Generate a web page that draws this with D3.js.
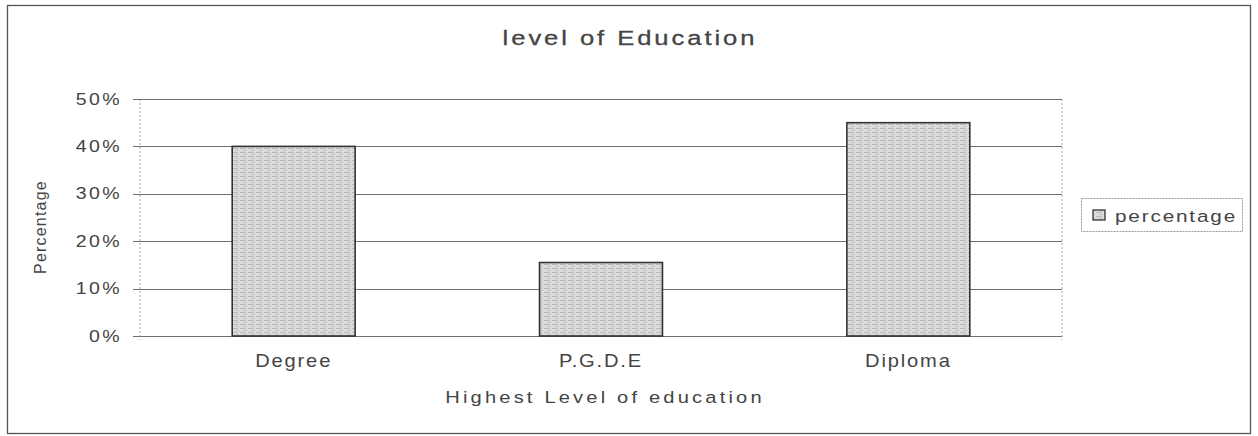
<!DOCTYPE html>
<html><head><meta charset="utf-8">
<script src="https://cdn.jsdelivr.net/npm/d3@7"></script>
<style>
html,body{margin:0;padding:0;background:#fff;}
text{font-family:"Liberation Sans",Arial,sans-serif;fill:#444;}
</style></head>
<body>
<svg id="chart" width="1258" height="436"></svg>
<script>
const categories = ["Degree", "P.G.D.E", "Diploma"];
const percentage = [0.40, 0.155, 0.45];
const yTicks = [0, 0.1, 0.2, 0.3, 0.4, 0.5];
const seriesName = "percentage";
const chartTitle = "level of Education";
const xTitle = "Highest Level of education";
const yTitle = "Percentage";

const svg = d3.select("#chart");
const plot = {left: 140, right: 1062, top: 99, bottom: 336};
const SX = 1.22;

// outer border
svg.append("rect").attr("x", 7.5).attr("y", 5.5).attr("width", 1243).attr("height", 428)
  .attr("fill", "#fff").attr("stroke", "#555").attr("stroke-width", 1.3);

// pattern for bars
const defs = svg.append("defs");
const pat = defs.append("pattern").attr("id", "hatch").attr("patternUnits", "userSpaceOnUse")
  .attr("width", 8).attr("height", 4);
pat.append("rect").attr("width", 8).attr("height", 4).attr("fill", "#dcdcdc");
pat.append("rect").attr("y", 0).attr("width", 6).attr("height", 1).attr("fill", "#b9b9b9");
pat.append("rect").attr("x", 3).attr("y", 2).attr("width", 4).attr("height", 1).attr("fill", "#c6c6c6");

const x = d3.scaleBand().domain(categories).range([plot.left, plot.right])
  .paddingInner(0.6).paddingOuter(0.3);
const y = d3.scaleLinear().domain([0, 0.5]).range([plot.bottom, plot.top]);

function stretchedText(px, py, sx, str, size, anchor, ls) {
  return svg.append("g").attr("transform", `translate(${px},${py})`)
    .append("text").attr("transform", `scale(${sx},1)`).attr("text-anchor", anchor)
    .attr("font-size", size).attr("letter-spacing", ls + "px").text(str);
}

// plot area side borders (dotted)
svg.append("line").attr("x1", plot.left).attr("x2", plot.left).attr("y1", plot.top).attr("y2", plot.bottom + 4)
  .attr("stroke", "#aaa").attr("stroke-dasharray", "2,2");
svg.append("line").attr("x1", plot.right).attr("x2", plot.right).attr("y1", plot.top).attr("y2", plot.bottom + 4)
  .attr("stroke", "#aaa").attr("stroke-dasharray", "2,2");

// gridlines
svg.append("g").selectAll("line").data(yTicks).join("line")
  .attr("x1", plot.left - 7).attr("x2", plot.right)
  .attr("y1", d => Math.round(y(d)) + 0.5).attr("y2", d => Math.round(y(d)) + 0.5)
  .attr("stroke", "#707070").attr("stroke-width", 1);

// y axis labels
const yPad = 18;
const yAxis = d3.axisLeft(y).tickValues(yTicks).tickFormat(d3.format(".0%")).tickSize(0).tickPadding(yPad);
const ya = svg.append("g").attr("transform", `translate(${plot.left},0)`).call(yAxis);
ya.select(".domain").remove();
ya.selectAll("text").attr("font-size", 16).attr("fill", "#444")
  .style("font-family", "Liberation Sans, Arial, sans-serif")
  .attr("letter-spacing", "2px")
  .attr("x", -yPad / SX).attr("transform", `scale(${SX},1)`);

// bars
svg.append("g").selectAll("rect").data(categories).join("rect")
  .attr("x", d => x(d)).attr("width", x.bandwidth())
  .attr("y", (d, i) => y(percentage[i])).attr("height", (d, i) => y(0) - y(percentage[i]))
  .attr("fill", "url(#hatch)").attr("stroke", "#333").attr("stroke-width", 1.6);

// x axis labels
const xAxis = d3.axisBottom(x).tickSize(0).tickPadding(19);
const xa = svg.append("g").attr("transform", `translate(0,${plot.bottom})`).call(xAxis);
xa.select(".domain").remove();
xa.selectAll("text").attr("font-size", 17.5).attr("fill", "#444")
  .style("font-family", "Liberation Sans, Arial, sans-serif").attr("transform", "scale(1.15,1)")
  .attr("letter-spacing", "1.6px");

// titles
stretchedText(630, 45, SX, chartTitle, 21, "middle", 2.4)
  .attr("fill", "#444").attr("stroke", "#444").attr("stroke-width", 0.3);
stretchedText(605, 403, SX, xTitle, 16.5, "middle", 2.6);
svg.append("text").attr("transform", "translate(46,227) rotate(-90)").attr("text-anchor", "middle")
  .attr("font-size", 16).attr("letter-spacing", "1.2px").text(yTitle);

// legend
const lg = svg.append("g");
lg.append("rect").attr("x", 1081.5).attr("y", 198.5).attr("width", 161).attr("height", 33)
  .attr("fill", "#fff").attr("stroke", "#999").attr("stroke-dasharray", "2,1");
lg.append("rect").attr("x", 1093).attr("y", 210).attr("width", 12).attr("height", 10)
  .attr("fill", "url(#hatch)").attr("stroke", "#333").attr("stroke-width", 1.3);
stretchedText(1115, 222, SX, seriesName, 17, "start", 1.5);
</script>
</body></html>
